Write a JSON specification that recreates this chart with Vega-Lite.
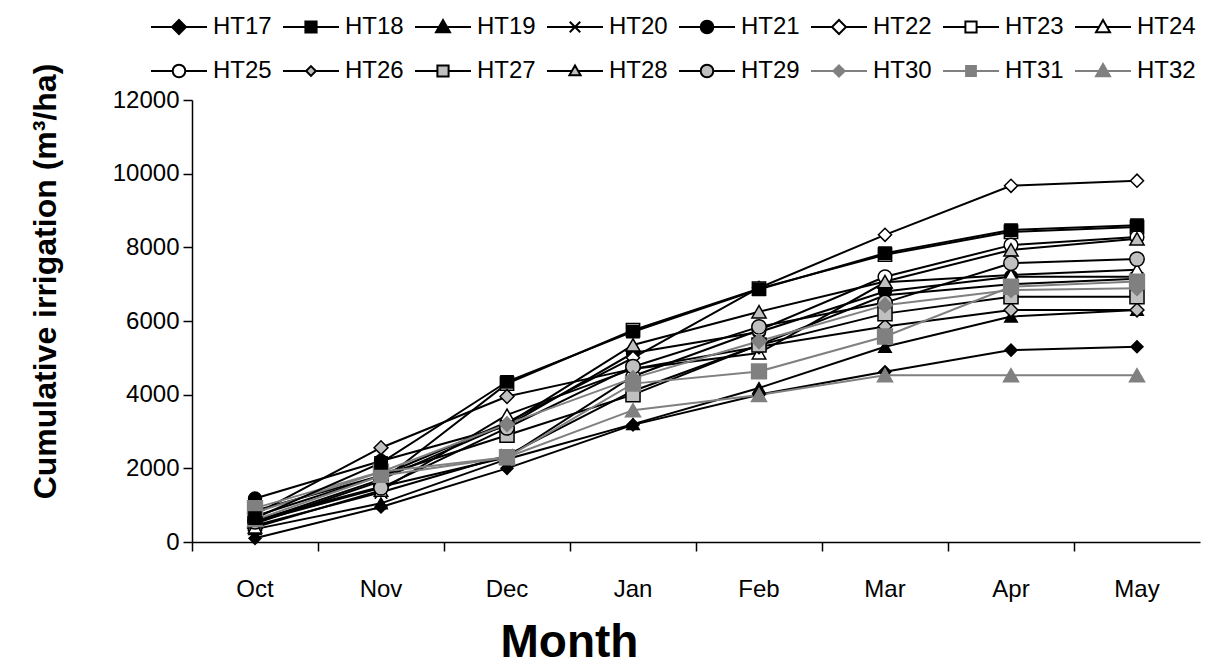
{
  "$schema": "https://vega.github.io/schema/vega-lite/v6.json",
  "width": 1008,
  "height": 442,
  "autosize": "none",
  "padding": {"left": 192, "top": 100, "right": 24, "bottom": 124},
  "background": "white",
  "config": {"view": {"stroke": null}, "font": "Liberation Sans"},
  "data": {"values": [
    {"s":"HT17","m":"Oct","v":100},{"s":"HT17","m":"Nov","v":950},{"s":"HT17","m":"Dec","v":2000},{"s":"HT17","m":"Jan","v":3180},{"s":"HT17","m":"Feb","v":4000},{"s":"HT17","m":"Mar","v":4620},{"s":"HT17","m":"Apr","v":5210},{"s":"HT17","m":"May","v":5300},
    {"s":"HT19","m":"Oct","v":350},{"s":"HT19","m":"Nov","v":1050},{"s":"HT19","m":"Dec","v":2250},{"s":"HT19","m":"Jan","v":3200},{"s":"HT19","m":"Feb","v":4180},{"s":"HT19","m":"Mar","v":5300},{"s":"HT19","m":"Apr","v":6120},{"s":"HT19","m":"May","v":6300},
    {"s":"HT20","m":"Oct","v":450},{"s":"HT20","m":"Nov","v":1350},{"s":"HT20","m":"Dec","v":2350},{"s":"HT20","m":"Jan","v":4100},{"s":"HT20","m":"Feb","v":5350},{"s":"HT20","m":"Mar","v":6700},{"s":"HT20","m":"Apr","v":7000},{"s":"HT20","m":"May","v":7150},
    {"s":"HT21","m":"Oct","v":1180},{"s":"HT21","m":"Nov","v":2200},{"s":"HT21","m":"Dec","v":3150},{"s":"HT21","m":"Jan","v":5130},{"s":"HT21","m":"Feb","v":5700},{"s":"HT21","m":"Mar","v":6800},{"s":"HT21","m":"Apr","v":7200},{"s":"HT21","m":"May","v":7200},
    {"s":"HT22","m":"Oct","v":700},{"s":"HT22","m":"Nov","v":1800},{"s":"HT22","m":"Dec","v":3250},{"s":"HT22","m":"Jan","v":5000},{"s":"HT22","m":"Feb","v":6900},{"s":"HT22","m":"Mar","v":8340},{"s":"HT22","m":"Apr","v":9670},{"s":"HT22","m":"May","v":9810},
    {"s":"HT23","m":"Oct","v":500},{"s":"HT23","m":"Nov","v":1650},{"s":"HT23","m":"Dec","v":4300},{"s":"HT23","m":"Jan","v":5750},{"s":"HT23","m":"Feb","v":6880},{"s":"HT23","m":"Mar","v":7800},{"s":"HT23","m":"Apr","v":8420},{"s":"HT23","m":"May","v":8550},
    {"s":"HT24","m":"Oct","v":400},{"s":"HT24","m":"Nov","v":1400},{"s":"HT24","m":"Dec","v":3450},{"s":"HT24","m":"Jan","v":4700},{"s":"HT24","m":"Feb","v":5130},{"s":"HT24","m":"Mar","v":7050},{"s":"HT24","m":"Apr","v":7250},{"s":"HT24","m":"May","v":7390},
    {"s":"HT25","m":"Oct","v":600},{"s":"HT25","m":"Nov","v":1500},{"s":"HT25","m":"Dec","v":2300},{"s":"HT25","m":"Jan","v":4500},{"s":"HT25","m":"Feb","v":5750},{"s":"HT25","m":"Mar","v":7200},{"s":"HT25","m":"Apr","v":8060},{"s":"HT25","m":"May","v":8280},
    {"s":"HT26","m":"Oct","v":750},{"s":"HT26","m":"Nov","v":2560},{"s":"HT26","m":"Dec","v":3950},{"s":"HT26","m":"Jan","v":4700},{"s":"HT26","m":"Feb","v":5300},{"s":"HT26","m":"Mar","v":5850},{"s":"HT26","m":"Apr","v":6300},{"s":"HT26","m":"May","v":6300},
    {"s":"HT27","m":"Oct","v":850},{"s":"HT27","m":"Nov","v":1800},{"s":"HT27","m":"Dec","v":2900},{"s":"HT27","m":"Jan","v":4000},{"s":"HT27","m":"Feb","v":5350},{"s":"HT27","m":"Mar","v":6200},{"s":"HT27","m":"Apr","v":6660},{"s":"HT27","m":"May","v":6660},
    {"s":"HT28","m":"Oct","v":550},{"s":"HT28","m":"Nov","v":1700},{"s":"HT28","m":"Dec","v":3200},{"s":"HT28","m":"Jan","v":5350},{"s":"HT28","m":"Feb","v":6250},{"s":"HT28","m":"Mar","v":7070},{"s":"HT28","m":"Apr","v":7930},{"s":"HT28","m":"May","v":8230},
    {"s":"HT29","m":"Oct","v":550},{"s":"HT29","m":"Nov","v":1470},{"s":"HT29","m":"Dec","v":3100},{"s":"HT29","m":"Jan","v":4760},{"s":"HT29","m":"Feb","v":5840},{"s":"HT29","m":"Mar","v":6500},{"s":"HT29","m":"Apr","v":7570},{"s":"HT29","m":"May","v":7680},
    {"s":"HT30","m":"Oct","v":800},{"s":"HT30","m":"Nov","v":1900},{"s":"HT30","m":"Dec","v":3200},{"s":"HT30","m":"Jan","v":4450},{"s":"HT30","m":"Feb","v":5450},{"s":"HT30","m":"Mar","v":6430},{"s":"HT30","m":"Apr","v":6840},{"s":"HT30","m":"May","v":6890},
    {"s":"HT31","m":"Oct","v":920},{"s":"HT31","m":"Nov","v":1910},{"s":"HT31","m":"Dec","v":2300},{"s":"HT31","m":"Jan","v":4300},{"s":"HT31","m":"Feb","v":4630},{"s":"HT31","m":"Mar","v":5580},{"s":"HT31","m":"Apr","v":6930},{"s":"HT31","m":"May","v":7070},
    {"s":"HT32","m":"Oct","v":600},{"s":"HT32","m":"Nov","v":1800},{"s":"HT32","m":"Dec","v":2300},{"s":"HT32","m":"Jan","v":3580},{"s":"HT32","m":"Feb","v":3990},{"s":"HT32","m":"Mar","v":4530},{"s":"HT32","m":"Apr","v":4530},{"s":"HT32","m":"May","v":4530},
    {"s":"HT18","m":"Oct","v":650},{"s":"HT18","m":"Nov","v":2150},{"s":"HT18","m":"Dec","v":4350},{"s":"HT18","m":"Jan","v":5710},{"s":"HT18","m":"Feb","v":6860},{"s":"HT18","m":"Mar","v":7840},{"s":"HT18","m":"Apr","v":8470},{"s":"HT18","m":"May","v":8600}
  ]},
  "encoding": {
    "x": {
      "field": "m", "type": "ordinal",
      "sort": ["Oct","Nov","Dec","Jan","Feb","Mar","Apr","May"],
      "scale": {"type": "band", "paddingInner": 0, "paddingOuter": 0},
      "axis": {
        "title": "Month", "bandPosition": 0, "labelAngle": 0,
        "labelFontSize": 24, "labelColor": "black", "labelPadding": 26, "labelFont": "Liberation Sans",
        "tickSize": 9, "tickColor": "black", "tickWidth": 1.5, "domainColor": "black", "domainWidth": 1.5,
        "titleFontSize": 46, "titleFontWeight": "bold", "titleColor": "black", "titleFont": "Liberation Sans",
        "titleX": 377, "titleY": 100, "titleBaseline": "middle", "titleAlign": "center", "grid": false
      }
    },
    "y": {
      "field": "v", "type": "quantitative",
      "scale": {"domain": [0, 12000], "nice": false},
      "axis": {
        "title": "Cumulative irrigation (m³/ha)", "values": [0,2000,4000,6000,8000,10000,12000], "format": "d",
        "labelFontSize": 24, "labelColor": "black", "labelPadding": 4, "labelFont": "Liberation Sans",
        "tickSize": 9, "tickColor": "black", "tickWidth": 1.5, "domainColor": "black", "domainWidth": 1.5, "grid": false,
        "titleFontSize": 32, "titleFontWeight": "bold", "titleColor": "black", "titleFont": "Liberation Sans",
        "titleX": -147, "titleY": 181, "titleAngle": -90, "titleBaseline": "middle", "titleAlign": "center"
      }
    }
  },
  "layer": [
    {
      "mark": {"type": "line", "strokeWidth": 2},
      "encoding": {
        "detail": {"field": "s", "type": "nominal"},
        "stroke": {"field": "s", "type": "nominal", "legend": null,
          "scale": {"domain": ["HT32","HT31","HT30","HT29","HT28","HT27","HT26","HT25","HT24","HT23","HT22","HT21","HT20","HT19","HT18","HT17"],
            "range": ["#808080","#808080","#808080","#000","#000","#000","#000","#000","#000","#000","#000","#000","#000","#000","#000","#000"]}}
      }
    },
    {
      "mark": {"type": "point", "filled": true, "strokeWidth": 1.5},
      "encoding": {
        "shape": {"field": "s", "type": "nominal", "legend": null,
          "scale": {"domain": ["HT32","HT31","HT30","HT29","HT28","HT27","HT26","HT25","HT24","HT23","HT22","HT21","HT20","HT19","HT18","HT17"],
            "range": ["triangle-up","square","diamond","circle","triangle-up","square","diamond","circle","triangle-up","square","diamond","circle","M-1,-1L1,1M-1,1L1,-1","triangle-up","square","diamond"]}},
        "opacity": {"field": "s", "type": "nominal",
          "scale": {"domain": ["HT17","HT18","HT19","HT20","HT21","HT22","HT23","HT24","HT25","HT26","HT27","HT28","HT29","HT30","HT31","HT32"],
            "range": [1,1,1,1,1,1,1,1,1,1,1,1,1,1,1,1]},
          "legend": {
            "title": null, "orient": "none", "legendX": -25, "legendY": -85, "direction": "horizontal", "columns": 8,
            "columnPadding": 7, "rowPadding": 20, "symbolSize": 196, "labelFontSize": 24, "labelColor": "black",
            "labelFont": "Liberation Sans", "labelOffset": 22, "symbolStrokeWidth": 2,
            "symbolType": {"expr": "['M-4,0H-1M1,0H4M0,-1L1,0L0,1L-1,0Z','M-4,0H-0.8M0.8,0H4M-0.8,-0.8H0.8V0.8H-0.8Z','M-4,0H-0.6M0.6,0H4M0,-1L1,0.75H-1Z','M-4,0H4M-0.75,-0.75L0.75,0.75M-0.75,0.75L0.75,-0.75','M-4,0H-0.9M0.9,0H4M-0.9,0A0.9,0.9,0,1,1,0.9,0A0.9,0.9,0,1,1,-0.9,0Z','M-4,0H-1M1,0H4M0,-1L1,0L0,1L-1,0Z','M-4,0H-0.8M0.8,0H4M-0.8,-0.8H0.8V0.8H-0.8Z','M-4,0H-0.6M0.6,0H4M0,-1L1,0.75H-1Z','M-4,0H-0.9M0.9,0H4M-0.9,0A0.9,0.9,0,1,1,0.9,0A0.9,0.9,0,1,1,-0.9,0Z','M-4,0H-0.7M0.7,0H4M0,-0.7L0.7,0L0,0.7L-0.7,0Z','M-4,0H-0.8M0.8,0H4M-0.8,-0.8H0.8V0.8H-0.8Z','M-4,0H-0.46M0.46,0H4M0,-0.8L0.8,0.6H-0.8Z','M-4,0H-0.9M0.9,0H4M-0.9,0A0.9,0.9,0,1,1,0.9,0A0.9,0.9,0,1,1,-0.9,0Z','M-4,0H-0.8M0.8,0H4M0,-0.8L0.8,0L0,0.8L-0.8,0Z','M-4,0H-0.7M0.7,0H4M-0.7,-0.7H0.7V0.7H-0.7Z','M-4,0H-0.6M0.6,0H4M0,-1L1,0.75H-1Z'][toNumber(substring(datum.value,2))-17]"},
            "symbolFillColor": {"expr": "toNumber(substring(datum.value,2)) < 22 ? '#000000' : toNumber(substring(datum.value,2)) < 26 ? '#ffffff' : toNumber(substring(datum.value,2)) < 30 ? '#c0c0c0' : '#808080'"},
            "symbolStrokeColor": {"expr": "toNumber(substring(datum.value,2)) < 30 ? '#000000' : '#808080'"}
          }
        },
        "fill": {"field": "s", "type": "nominal", "legend": null,
          "scale": {"domain": ["HT32","HT31","HT30","HT29","HT28","HT27","HT26","HT25","HT24","HT23","HT22","HT21","HT20","HT19","HT18","HT17"],
            "range": ["#808080","#808080","#808080","#c0c0c0","#c0c0c0","#c0c0c0","#c0c0c0","#fff","#fff","#fff","#fff","#000","#000","#000","#000","#000"]}},
        "stroke": {"field": "s", "type": "nominal", "legend": null,
          "scale": {"domain": ["HT32","HT31","HT30","HT29","HT28","HT27","HT26","HT25","HT24","HT23","HT22","HT21","HT20","HT19","HT18","HT17"],
            "range": ["#808080","#808080","#808080","#000","#000","#000","#000","#000","#000","#000","#000","#000","#000","#000","#000","#000"]}},
        "size": {"field": "s", "type": "nominal", "legend": null,
          "scale": {"domain": ["HT32","HT31","HT30","HT29","HT28","HT27","HT26","HT25","HT24","HT23","HT22","HT21","HT20","HT19","HT18","HT17"],
            "range": [225,144,144,225,170,200,121,200,225,225,289,225,130,200,170,225]}}
      }
    }
  ]
}
